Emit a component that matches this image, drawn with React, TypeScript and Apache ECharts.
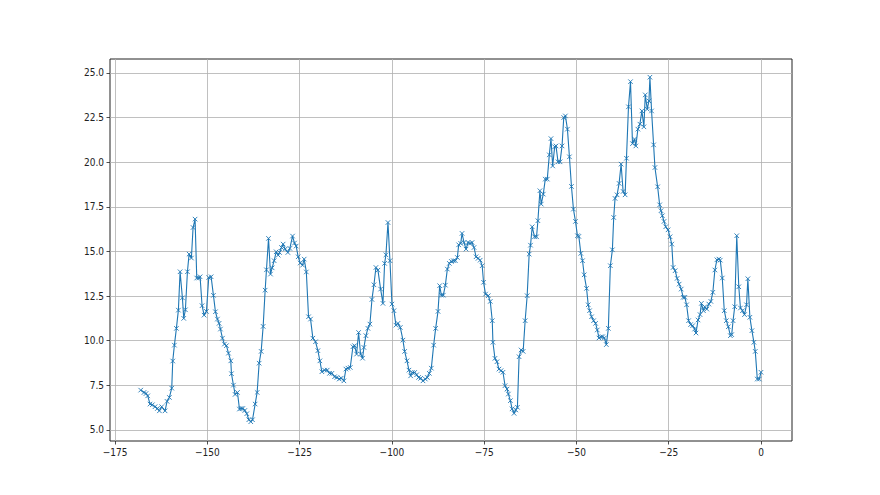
import React, { useEffect, useRef } from "react";
import * as echarts from "echarts";

const hours: number[] = [
  -168.08, -167.18, -166.64, -166.18, -165.55, -164.92, -164.2, -163.56, -163.02, -162.39,
  -161.48, -160.94, -160.31, -159.67, -159.4, -158.95, -158.41, -157.87, -157.41, -156.78,
  -156.42, -155.97, -155.42, -154.97, -154.34, -153.89, -153.35, -152.89, -152.35, -151.99,
  -151.45, -150.9, -150.27, -149.64, -149.0, -148.37, -147.83, -147.29, -146.84, -146.47,
  -145.93, -145.39, -144.85, -144.3, -143.67, -143.49, -142.95, -142.5, -141.86, -141.32,
  -140.87, -140.42, -139.87, -139.33, -138.79, -138.25, -137.79, -137.07, -136.53, -135.99,
  -135.44, -134.9, -134.36, -134.0, -133.45, -132.91, -132.46, -131.92, -131.37, -130.83,
  -130.47, -129.93, -129.48, -128.93, -128.21, -127.67, -126.94, -126.4, -125.95, -125.41,
  -124.86, -124.23, -123.78, -123.2,
  -122.6, -122.06, -121.43, -120.71, -120.07, -119.53, -118.99, -118.26, -117.54, -116.91,
  -116.28, -115.55, -114.92, -114.29, -113.74, -113.02, -112.48, -111.93, -111.3, -110.58,
  -110.13, -109.58, -109.04, -108.5, -107.96, -107.6, -107.05, -106.51, -105.97, -105.42,
  -104.88, -104.34, -103.8, -103.07, -102.44, -101.99, -101.63, -101.08, -100.54, -100,
  -99.46, -98.92, -98.37, -97.74, -97.02, -96.56, -95.93, -95.39, -94.94, -94.48,
  -93.85, -93.31, -92.77, -92.23, -91.59, -90.96, -90.42, -89.87, -89.33, -88.7,
  -88.16, -87.52, -87.07, -86.62, -86.08, -85.53, -84.99, -84.45, -83.91, -83.36,
  -82.82, -82.28, -81.92, -81.37, -81.01, -80.47, -79.93, -79.38, -78.84, -78.3,
  -77.76, -77.21, -76.67,
  -76.09, -75.55, -75.18, -74.64, -73.91, -73.36, -72.82, -72.64, -72.09, -71.55,
  -71.0, -70.45, -69.91, -69.36, -68.82, -68.45, -67.91, -67.45, -66.91, -66.45,
  -66.0, -65.55, -65.0, -64.45, -63.91, -63.36, -62.82, -62.45, -62.0, -61.36,
  -60.82, -60.45, -59.91, -59.55, -59.0, -58.45, -57.91, -57.36, -56.91, -56.45,
  -55.91, -55.55, -55.0, -54.45, -53.91, -53.45, -53.0, -52.45, -51.91, -51.36,
  -50.82, -50.27, -49.73, -49.36, -48.82, -48.36, -47.91, -47.27, -46.82, -46.45,
  -45.91, -45.36, -44.82, -44.36, -43.91, -43.36, -42.91, -42.45, -41.91, -41.36,
  -40.82, -40.27, -39.91, -39.55, -39.0, -38.45, -37.91, -37.36, -36.82, -36.45,
  -35.91, -35.36, -34.82, -34.27, -33.91, -33.36, -32.82, -32.27, -31.73, -31.36,
  -30.82, -30.36, -30.1,
  -29.65, -29.1, -28.74, -28.01, -27.46, -27.1, -26.73, -26.28, -25.82, -25.18,
  -24.64, -24.18, -23.81, -23.27, -22.72, -22.17, -21.62, -21.08, -20.62, -20.16,
  -19.62, -19.07, -18.52, -17.98, -17.61, -17.06, -16.51, -16.15, -15.6, -15.24,
  -14.69, -14.14, -13.59, -13.05, -12.5, -11.95, -11.41, -11.04, -10.49, -9.95,
  -9.4, -8.85, -8.3, -7.94, -7.57, -7.12, -6.57, -6.02, -5.57, -5.02,
  -4.47, -3.92, -3.56, -3.01, -2.46, -1.92, -1.55, -1.0, -0.46, 0,
];

const values: number[] = [
  7.23, 7.1, 7.04, 6.91, 6.45, 6.41, 6.3, 6.2, 6.07, 6.3,
  6.07, 6.6, 6.82, 7.34, 8.86, 9.75, 10.69, 11.71, 13.86, 12.4,
  11.25, 11.73, 13.86, 14.85, 14.63, 16.34, 16.81, 13.51, 13.51, 13.58,
  11.96, 11.43, 11.64, 13.54, 13.58, 12.54, 11.62, 11.21, 10.97, 10.65,
  10.14, 9.81, 9.72, 9.3, 8.87, 8.15, 7.51, 6.99, 7.1, 6.17,
  6.2, 6.2, 6.09, 5.91, 5.57, 5.46, 5.57, 6.45, 7.1, 8.74,
  9.4, 10.8, 12.83, 13.97, 15.73, 13.73, 14.08, 14.48, 14.98, 14.79,
  14.94, 15.22, 15.41, 15.13, 14.94, 15.17, 15.86, 15.47, 15.3, 14.7,
  14.35, 14.23, 14.57, 13.85,
  11.34, 11.21, 10.14, 9.94, 9.44, 8.87, 8.26, 8.35, 8.35, 8.17,
  8.17, 7.98, 7.94, 7.85, 7.9, 7.75, 8.41, 8.46, 8.5, 9.66,
  9.72, 9.25, 10.46, 9.25, 9.02, 9.62, 10.28, 10.69, 10.93, 12.31,
  13.13, 14.1, 13.95, 12.89, 12.09, 14.33, 14.81, 16.62, 14.48, 12.05,
  11.68, 10.87, 10.97, 10.74, 10.03, 9.4, 8.87, 8.35, 8.03, 8.22,
  8.22, 8.09, 7.94, 7.89, 7.75, 7.85, 7.94, 8.17, 8.46, 9.75,
  10.69, 11.64, 13.08, 12.55, 12.55, 13.11, 14.01, 14.33, 14.44, 14.48,
  14.48, 14.66, 15.37, 15.45, 16.01, 15.5, 15.13, 15.5, 15.45, 15.5,
  15.22, 14.7, 14.61,
  14.51, 14.2, 13.27, 12.61, 12.52, 12.2, 11.12, 9.91, 9.01, 8.82,
  8.41, 8.32, 8.23, 7.48, 7.29, 7.01, 6.64, 6.18, 5.93, 6.12,
  6.27, 9.1, 9.48, 9.4, 11.12, 12.52, 14.85, 15.35, 16.38, 15.82,
  15.82, 16.72, 18.4, 17.65, 18.21, 19.05, 19.05, 20.41, 21.32, 19.79,
  20.86, 20.91, 20.02, 20.02, 20.91, 22.5, 22.59, 21.85, 20.3, 18.64,
  17.37, 16.68, 15.88, 15.84, 14.89, 14.48, 13.69, 12.93, 12.01, 11.68,
  11.34, 11.12, 10.97, 10.6, 10.15, 10.22, 10.22, 10.15, 9.78, 10.69,
  14.2, 15.09, 16.9, 17.97, 18.17, 18.81, 19.89, 18.36, 18.17, 20.22,
  23.1, 24.51, 21.04, 21.29, 20.91, 21.85, 22.13, 22.87, 21.98, 23.77,
  22.97, 23.43, 24.76,
  22.87, 20.97, 19.7, 18.62, 17.61, 17.28, 17.0, 16.68, 16.38, 16.21,
  15.82, 15.41, 14.1, 13.92, 13.49, 13.17, 12.89, 12.43, 12.43, 12.01,
  11.12, 10.9, 10.84, 10.65, 10.43, 11.16, 11.46, 12.09, 11.68, 11.9,
  11.77, 12.05, 12.2, 12.71, 13.96, 14.53, 14.57, 14.51, 13.51, 11.68,
  11.12, 10.78, 10.28, 10.34, 11.12, 11.9, 15.88, 13.02, 11.83, 11.68,
  11.46, 12.01, 13.47, 11.31, 10.56, 9.91, 9.4, 7.85, 7.85, 8.23,
];

const xTicks: number[] = [-175, -150, -125, -100, -75, -50, -25, 0];
const yTicks: number[] = [5, 7.5, 10, 12.5, 15, 17.5, 20, 22.5, 25];

const FONT = "'Liberation Sans Narrow', 'DejaVu Sans Condensed', 'DejaVu Sans', sans-serif";

export default function App() {
  const ref = useRef<HTMLDivElement>(null);
  useEffect(() => {
    if (!ref.current) return;
    const chart = echarts.init(ref.current, null, { renderer: "svg" });
    const data = hours.map((h, i) => [h, values[i]]);
    const labelStyle = { color: "#222", fontSize: 10, fontFamily: FONT, margin: 6 };
    chart.setOption({
      animation: false,
      backgroundColor: "#fff",
      grid: {
        left: 110,
        right: 88,
        top: 59,
        bottom: 54,
        show: true,
        borderColor: "#222",
        borderWidth: 1,
        backgroundColor: "transparent",
      },
      xAxis: {
        type: "value",
        min: -176.4,
        max: 8.4,
        position: "bottom",
        axisLine: { show: false, onZero: false },
        axisTick: { show: true, length: 3.5, customValues: xTicks, lineStyle: { color: "#222", width: 0.8 } },
        axisLabel: {
          ...labelStyle,
          customValues: xTicks,
          formatter: (v: number) => (v < 0 ? "\u2212" + Math.abs(v) : String(v)),
        },
        splitLine: { show: true, lineStyle: { color: "#b0b0b0", width: 0.8 } },
      },
      yAxis: {
        type: "value",
        min: 4.38,
        max: 25.78,
        position: "left",
        axisLine: { show: false, onZero: false },
        axisTick: { show: true, length: 3.5, customValues: yTicks, lineStyle: { color: "#222", width: 0.8 } },
        axisLabel: {
          ...labelStyle,
          customValues: yTicks,
          formatter: (v: number) => v.toFixed(1),
        },
        splitLine: { show: true, lineStyle: { color: "#b0b0b0", width: 0.8 } },
      },
      series: [
        {
          type: "line",
          data,
          showAllSymbol: true,
          symbol: "path://M0,0L10,10M10,0L0,10",
          symbolSize: 4.5,
          itemStyle: { color: "#1f77b4", borderColor: "#1f77b4", borderWidth: 0.9 },
          lineStyle: { color: "#1f77b4", width: 1.1 },
          z: 3,
        },
      ],
    });
    return () => chart.dispose();
  }, []);
  return (
    <div
      ref={ref}
      style={{ position: "absolute", left: 0, top: 0, width: 880, height: 495, background: "#fff" }}
    />
  );
}
